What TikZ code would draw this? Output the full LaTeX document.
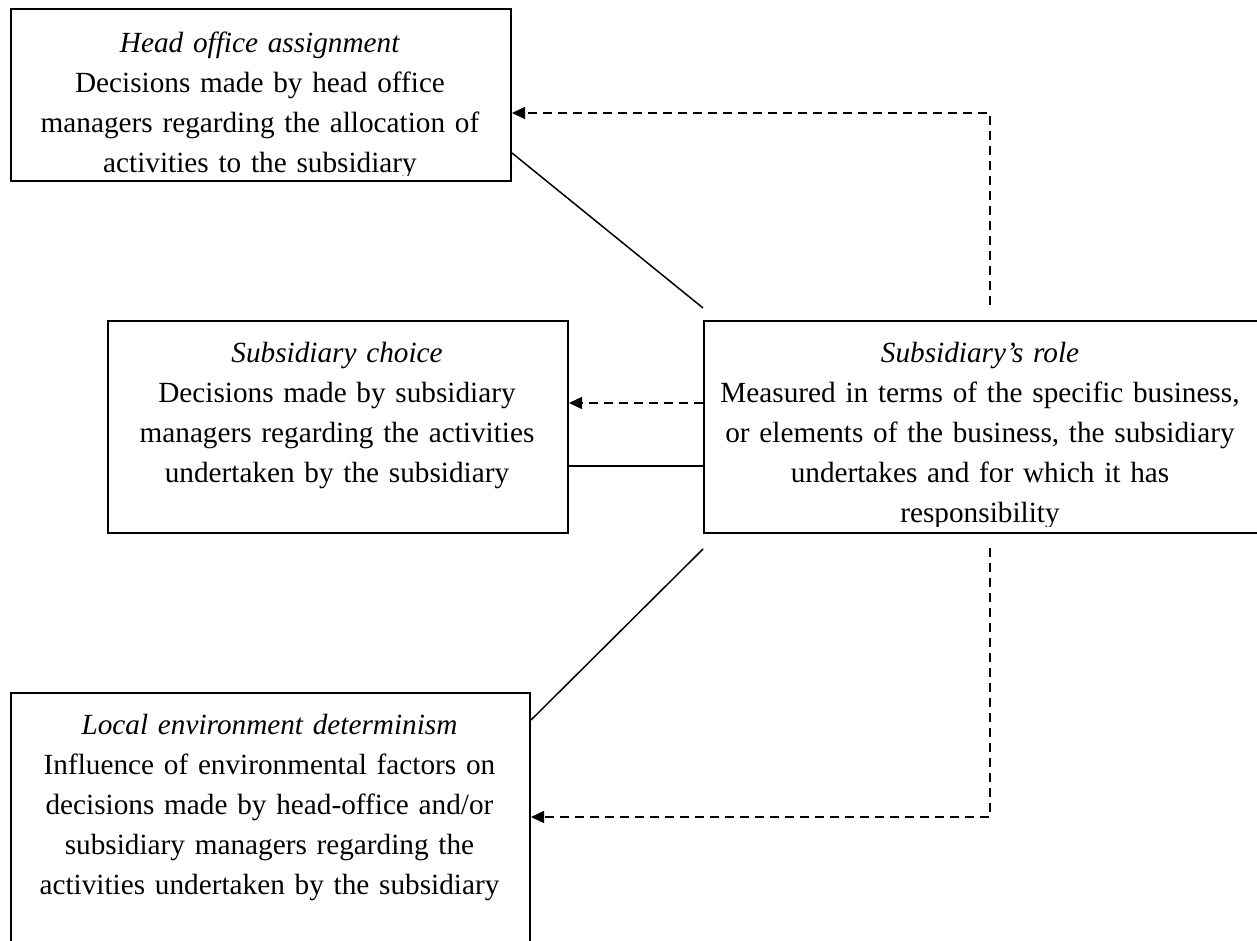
\documentclass[tikz,border=0pt]{standalone}
\usepackage{fontspec}
\setmainfont{Liberation Serif}
\usetikzlibrary{arrows.meta,calc}
\tikzset {>={Triangle[length=5.2pt,width=4.8pt]}}
\tikzset{
  box/.style={draw,line width=0.8pt,inner sep=0pt,anchor=north west},
  txt/.style={anchor=base,align=center,inner sep=0pt,text width=240pt,
    font=\fontsize{11.7pt}{16pt}\selectfont},
  link/.style={line width=0.6pt},
  dlink/.style={line width=0.6pt,dash pattern=on 3.6pt off 2.4pt}
}

\begin{document}
\begin{tikzpicture}[x=0.4pt,y=-0.4pt]
\useasboundingbox (0,0) rectangle (1257,940);
% the four boxes
\node[box,minimum width=200pt,minimum height=68.8pt] (head) at (10,8) {};
\node[box,minimum width=184pt,minimum height=84.8pt] (choice) at (107,320) {};
\node[box,minimum width=222.4pt,minimum height=84.8pt] (role) at (703,320) {};
\node[box,minimum width=207.6pt,minimum height=120pt] (local) at (10,692) {};
% texts, cut off a little above the lower edge
\begin{scope}
\clip (head.north west) rectangle ($(head.south east)+(0,-7)$);
\node[txt] (headtxt) at (260,52) {\textit{Head office assignment}\\
  Decisions made by head office\\
  managers regarding the allocation of\\
  activities to the subsidiary};
\end{scope}
\node[txt] (choicetxt) at (337,362) {\textit{Subsidiary choice}\\
  Decisions made by subsidiary\\
  managers regarding the activities\\
  undertaken by the subsidiary};
\begin{scope}
\clip (role.north west) rectangle ($(role.south east)+(0,-8)$);
\node[txt] (roletxt) at (980,362) {\textit{Subsidiary's role}\\
  Measured in terms of the specific business,\\
  or elements of the business, the subsidiary\\
  undertakes and for which it has\\
  responsibility};
\end{scope}
\node[txt] (localtxt) at (269.5,734) {\textit{Local environment determinism}\\
  Influence of environmental factors on\\
  decisions made by head-office and/or\\
  subsidiary managers regarding the\\
  activities undertaken by the subsidiary};
% connectors
\coordinate (hs) at (head.east |- 0,153);
\coordinate (rs) at (703,308);
\draw[link] (hs) -- (rs);
\coordinate (ru) at (990,305);
\draw[dlink,->] (ru) |- (head.east |- 0,113);
\draw[dlink,->] (role.west |- 0,403) -- (choice.east |- 0,403);
\draw[link] (choice.east |- 0,466) -- (role.west |- 0,466);
\coordinate (rb) at (703,549);
\draw[link] (rb) -- (local.east |- 0,720);
\coordinate (rd) at (990,548);
\draw[dlink,->] (rd) |- (local.east |- 0,817);
\end{tikzpicture}
\end{document}
